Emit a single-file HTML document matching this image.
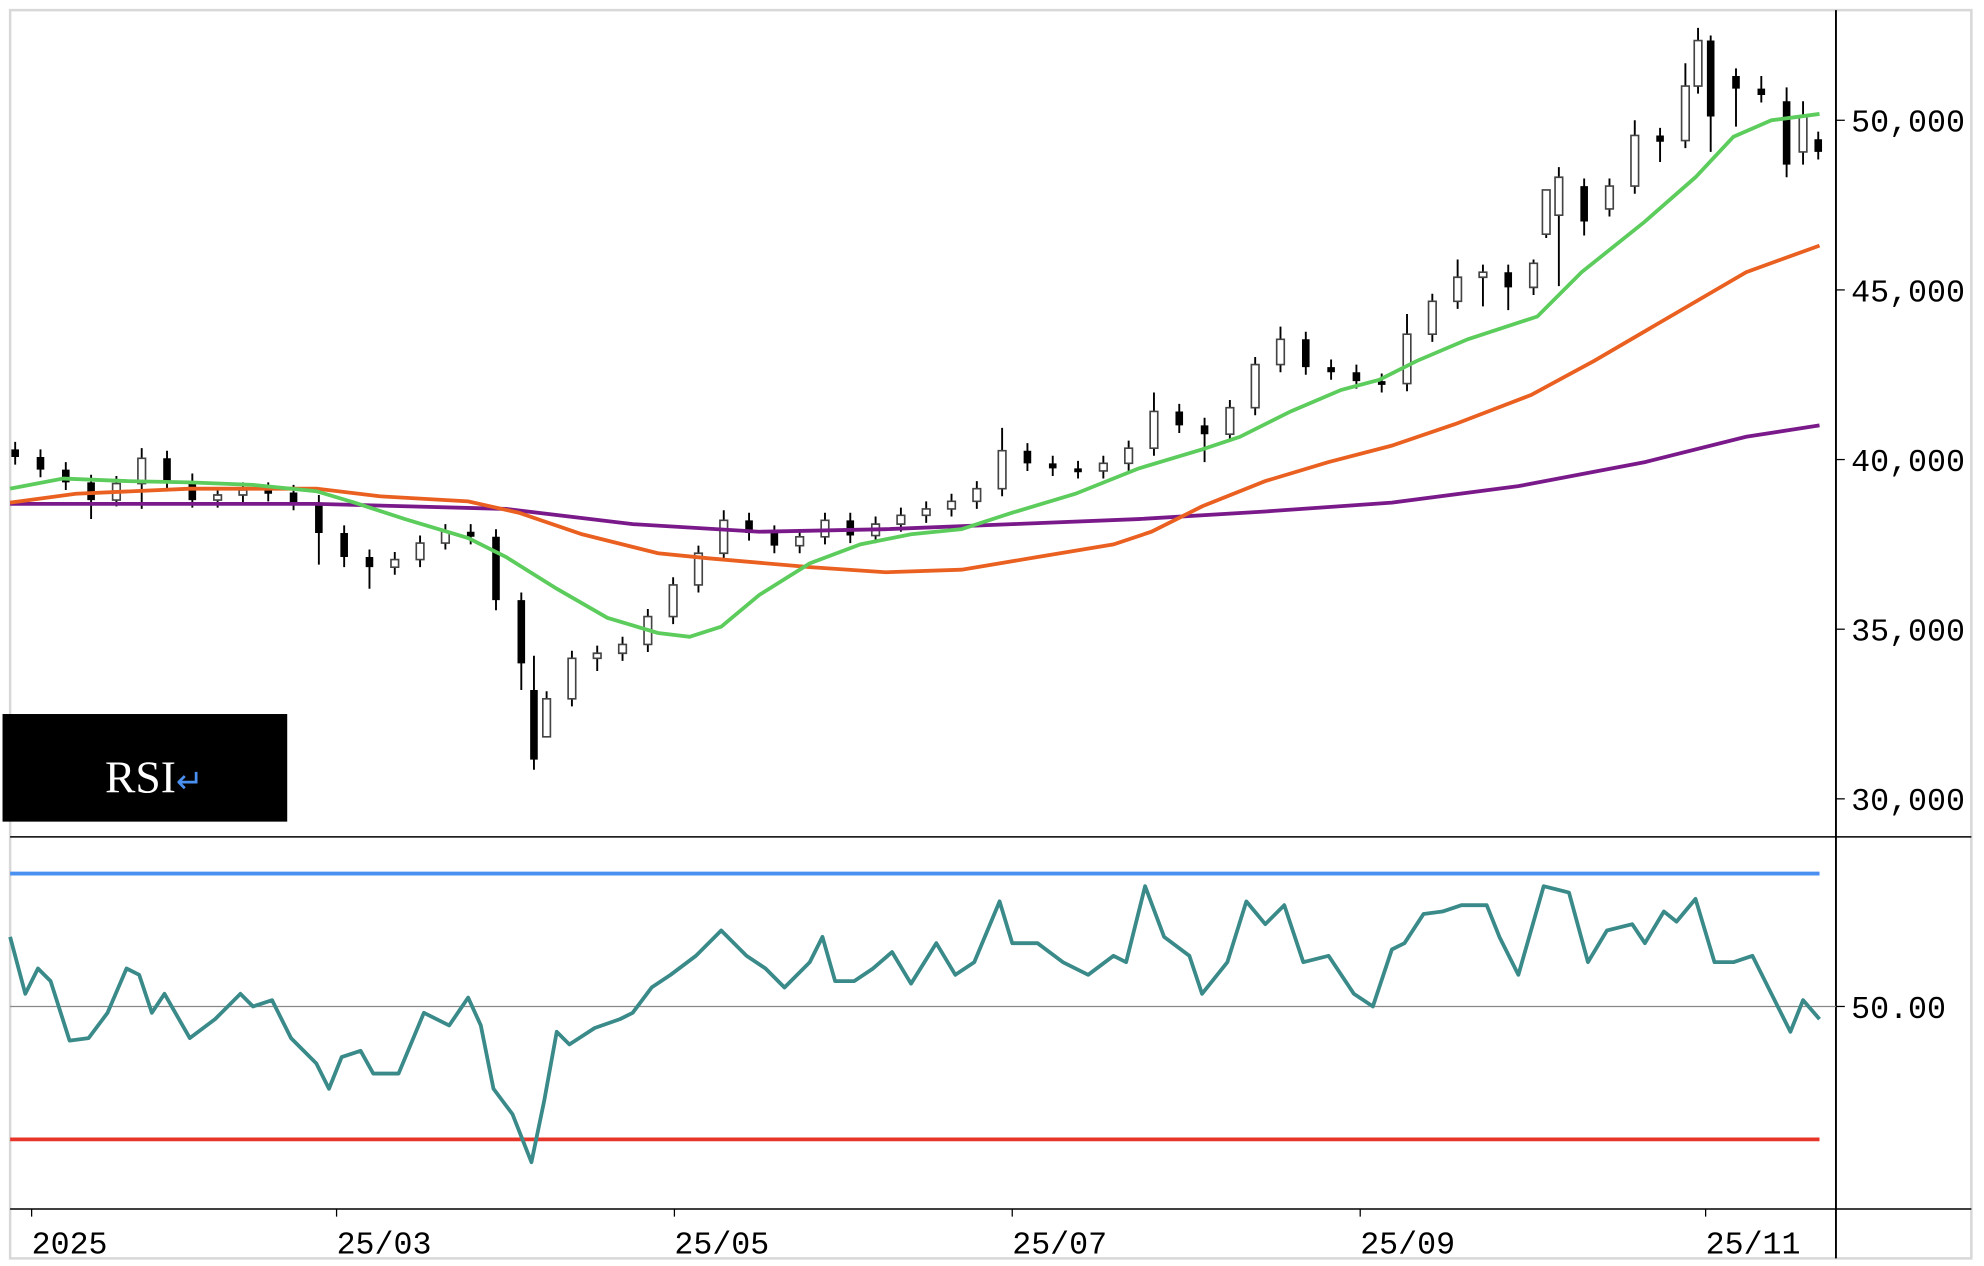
<!DOCTYPE html>
<html><head><meta charset="utf-8"><style>
html,body{margin:0;padding:0;background:#fff;width:1984px;height:1266px;overflow:hidden}
svg{display:block}
</style></head><body>
<svg width="1984" height="1266" viewBox="0 0 1568 1000" preserveAspectRatio="none" xmlns="http://www.w3.org/2000/svg">
<rect x="0" y="0" width="1568" height="1000" fill="#fff"/>
<rect x="8" y="8" width="1550" height="986" fill="none" stroke="#d8d8d8" stroke-width="2"/>
<line x1="1451" y1="8" x2="1451" y2="994" stroke="#000" stroke-width="1.5"/>
<line x1="8" y1="661" x2="1558" y2="661" stroke="#000" stroke-width="1.2"/>
<line x1="8" y1="955" x2="1558" y2="955" stroke="#000" stroke-width="1.2"/>
<line x1="8" y1="795" x2="1451" y2="795" stroke="#888" stroke-width="1"/>
<line x1="8" y1="690" x2="1438" y2="690" stroke="#4a90f0" stroke-width="3"/>
<line x1="8" y1="900" x2="1438" y2="900" stroke="#e8352a" stroke-width="3"/>
<g stroke="#000" stroke-width="1">
<line x1="1451" y1="95" x2="1458" y2="95"/><line x1="1451" y1="229" x2="1458" y2="229"/>
<line x1="1451" y1="363" x2="1458" y2="363"/><line x1="1451" y1="497" x2="1458" y2="497"/>
<line x1="1451" y1="631" x2="1458" y2="631"/><line x1="1451" y1="795" x2="1458" y2="795"/>
<line x1="25" y1="955" x2="25" y2="961"/><line x1="266" y1="955" x2="266" y2="961"/>
<line x1="533" y1="955" x2="533" y2="961"/><line x1="800" y1="955" x2="800" y2="961"/>
<line x1="1075" y1="955" x2="1075" y2="961"/><line x1="1348" y1="955" x2="1348" y2="961"/>
</g>
<g font-family="Liberation Mono, monospace" font-size="25" fill="#000">
<text x="1463" y="104">50,000</text><text x="1463" y="238">45,000</text>
<text x="1463" y="372">40,000</text><text x="1463" y="506">35,000</text>
<text x="1463" y="640">30,000</text><text x="1463" y="804">50.00</text>
<text x="25" y="990">2025</text><text x="266" y="990">25/03</text>
<text x="533" y="990">25/05</text><text x="800" y="990">25/07</text>
<text x="1075" y="990">25/09</text><text x="1348" y="990">25/11</text>
</g>
<!-- wicks -->
<path fill="none" stroke="#000" stroke-width="1.5" d="
M12 349V367 M32 355V377 M52 365V387 M72 375V410 M92 376V400 M112 354V402 M132 356V386 M152 374V401 M172 385V401 M192 381V397
M212 381V396 M232 383V403 M252 391V446 M272 415V448 M292 434V465 M312 436V454 M332 423V448 M352 414V434 M372 414V430 M392 418V482
M412 468V545 M422 518V608 M432 546V582 M452 514V558 M472 510V530 M492 503V522 M512 481V515 M532 456V493 M552 431V468 M572 403V443
M592 405V427 M612 415V437 M632 418V437 M652 405V430 M672 405V429 M692 408V429 M712 401V420 M732 396V413 M752 390V408 M772 380V402
M792 338V392 M812 350V372 M832 360V376 M852 364V378 M872 360V378 M892 348V372 M912 310V360 M932 319V342 M952 330V365 M972 316V349
M992 282V328 M1012 258V294 M1032 262V296 M1052 284V300 M1072 288V307 M1092 295V310 M1112 248V309 M1132 232V270 M1152 205V244 M1172 209V242
M1192 209V245 M1212 205V233 M1222 150V188 M1232 132V226 M1252 141V186 M1272 141V171 M1292 95V153 M1312 101V128 M1332 50V117 M1342 22V74
M1352 28V120 M1372 54V100 M1392 60V81 M1412 69V140 M1425 80V130 M1437 104V126"/>
<!-- black bodies -->
<path fill="#000" d="
M9 355h6v6h-6Z M29 361h6v10h-6Z M49 371h6v10h-6Z M69 381h6v14h-6Z M129 362h6v18h-6Z M149 380h6v15h-6Z
M209 387h6v3h-6Z M229 389h6v8h-6Z M249 397h6v24h-6Z M269 421h6v19h-6Z M289 440h6v8h-6Z M369 420h6v4h-6Z
M389 424h6v50h-6Z M409 474h6v50h-6Z M419 545h6v55h-6Z M589 411h6v10h-6Z M609 421h6v10h-6Z M669 411h6v12h-6Z
M809 356h6v10h-6Z M829 366h6v4h-6Z M849 370h6v3h-6Z M929 325h6v11h-6Z M949 336h6v7h-6Z M1029 268h6v22h-6Z
M1049 290h6v4h-6Z M1069 294h6v7h-6Z M1089 301h6v3h-6Z M1189 215h6v12h-6Z M1249 147h6v28h-6Z M1309 107h6v5h-6Z
M1349 32h6v60h-6Z M1369 60h6v10h-6Z M1389 70h6v5h-6Z M1409 80h6v50h-6Z M1434 110h6v10h-6Z"/>
<!-- white bodies -->
<path fill="#fff" stroke="#444" stroke-width="1.3" d="
M89 382h6v13h-6Z M109 362h6v20h-6Z M169 391h6v4h-6Z M189 387h6v4h-6Z M309 442h6v6h-6Z M329 429h6v13h-6Z M349 420h6v9h-6Z
M429 552h6v30h-6Z M449 520h6v32h-6Z M469 516h6v4h-6Z M489 509h6v7h-6Z M509 487h6v22h-6Z M529 462h6v25h-6Z M549 437h6v25h-6Z
M569 411h6v26h-6Z M629 424h6v7h-6Z M649 411h6v13h-6Z M689 414h6v9h-6Z M709 407h6v7h-6Z M729 402h6v5h-6Z M749 396h6v6h-6Z
M769 386h6v10h-6Z M789 356h6v30h-6Z M869 366h6v6h-6Z M889 354h6v12h-6Z M909 325h6v29h-6Z M969 322h6v21h-6Z M989 288h6v34h-6Z
M1009 268h6v20h-6Z M1109 264h6v39h-6Z M1129 238h6v26h-6Z M1149 219h6v19h-6Z M1169 215h6v4h-6Z M1209 208h6v19h-6Z
M1219 150h6v35h-6Z M1229 140h6v30h-6Z M1269 147h6v18h-6Z M1289 107h6v40h-6Z M1329 68h6v43h-6Z M1339 32h6v36h-6Z M1422 92h6v28h-6Z"/>
<polyline fill="none" stroke="#7a1a8a" stroke-width="3" points="8,398 250,398 400,402 500,414 600,420 700,418 800,414 900,410 1000,404 1100,397 1200,384 1300,365 1380,345 1438,336"/>
<polyline fill="none" stroke="#ea6020" stroke-width="3" points="8,397 60,390 150,386 250,386 300,392 370,396 410,405 460,422 520,437 560,441 640,448 700,452 760,450 820,440 880,430 910,420 950,400 1000,380 1050,365 1100,352 1150,335 1210,312 1260,285 1320,250 1380,215 1438,194"/>
<polyline fill="none" stroke="#5ccc5c" stroke-width="3" points="8,386 50,378 100,380 150,381 200,383 250,388 280,397 320,410 370,425 400,440 440,465 480,488 520,500 545,503 570,495 600,470 640,445 680,430 720,422 760,418 800,405 850,390 900,370 950,355 980,345 1020,325 1060,308 1090,300 1120,285 1160,268 1215,250 1250,215 1300,175 1340,140 1370,108 1400,95 1438,90"/>
<polyline fill="none" stroke="#3a8a8a" stroke-width="3" stroke-linejoin="round" points="8,740 20,785 30,765 40,775 55,822 70,820 85,800 100,765 110,770 120,800 130,785 150,820 170,805 190,785 200,795 215,790 230,820 250,840 260,860 270,835 285,830 295,848 315,848 335,800 355,810 370,788 380,810 390,860 405,880 420,918 430,870 440,815 450,825 470,812 490,805 500,800 515,780 530,770 550,755 570,735 590,755 605,765 620,780 640,760 650,740 660,775 675,775 690,765 705,752 720,777 740,745 755,770 770,760 790,712 800,745 820,745 840,760 860,770 880,755 890,760 905,700 920,740 940,755 950,785 970,760 985,712 1000,730 1015,715 1030,760 1050,755 1070,785 1085,795 1100,750 1110,745 1125,722 1140,720 1155,715 1175,715 1185,740 1200,770 1220,700 1240,705 1255,760 1270,735 1290,730 1300,745 1315,720 1325,728 1340,710 1355,760 1370,760 1385,755 1400,785 1415,815 1425,790 1438,805"/>
<rect x="2" y="564" width="225" height="85" fill="#000"/>
<text x="83" y="626" font-family="Liberation Serif, serif" font-size="36" fill="#fff">RSI<tspan fill="#4a90f0" font-size="26">↵</tspan></text>
</svg>
</body></html>
